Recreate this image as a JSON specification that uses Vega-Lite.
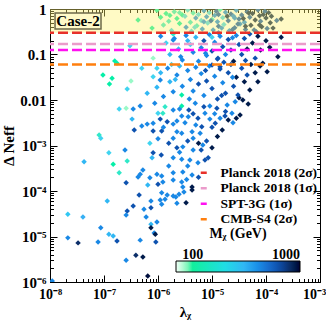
{
"$schema":"https://vega.github.io/schema/vega-lite/v6.json",
"width":270,"height":273,"autosize":"none",
"padding":{"left":50,"top":9,"right":6,"bottom":38},
"background":"white",
"config":{"view":{"stroke":"black","strokeWidth":1},"font":"Liberation Serif",
"axis":{"grid":false,"domainColor":"black","tickColor":"black","labelFont":"Liberation Serif","labelFontSize":15,"labelFontWeight":"bold","labelColor":"black","titleFont":"Liberation Serif","titleFontSize":15,"titleFontWeight":"bold","titleColor":"black","labelFlush":false,"labelOverlap":false},
"legend":{"labelFont":"Liberation Serif","labelFontSize":13.5,"labelFontWeight":"bold","labelColor":"black","titleFont":"Liberation Serif","titleFontSize":14,"titleFontWeight":"bold","titleColor":"black"}},
"datasets":{
"pts":[
{"l":9.55e-7,"n":0.933,"m":110},{"l":1.41e-6,"n":0.794,"m":110},{"l":2.0e-6,"n":0.871,"m":160},{"l":2.82e-6,"n":0.741,"m":110},{"l":3.55e-6,"n":0.955,"m":230},{"l":4.47e-6,"n":0.813,"m":160},{"l":5.62e-6,"n":0.759,"m":230},{"l":7.08e-6,"n":0.912,"m":420},{"l":8.91e-6,"n":0.832,"m":230},{"l":1.12e-5,"n":0.724,"m":420},{"l":1.41e-5,"n":0.977,"m":160},{"l":1.78e-5,"n":0.851,"m":420},{"l":2.24e-5,"n":0.776,"m":620},{"l":2.82e-5,"n":0.933,"m":420},{"l":3.55e-5,"n":0.741,"m":620},{"l":4.47e-5,"n":0.871,"m":620},{"l":5.62e-5,"n":0.794,"m":900},{"l":7.08e-5,"n":0.955,"m":620},{"l":8.91e-5,"n":0.759,"m":900},{"l":1.12e-4,"n":0.832,"m":900},
{"l":4.27e-7,"n":0.575,"m":110},{"l":1.12e-6,"n":0.661,"m":110},{"l":1.58e-6,"n":0.537,"m":160},{"l":2.24e-6,"n":0.617,"m":110},{"l":3.16e-6,"n":0.692,"m":230},{"l":3.98e-6,"n":0.513,"m":160},{"l":5.01e-6,"n":0.631,"m":420},{"l":6.31e-6,"n":0.562,"m":230},{"l":7.94e-6,"n":0.676,"m":420},{"l":1.0e-5,"n":0.589,"m":160},{"l":1.26e-5,"n":0.525,"m":420},{"l":1.58e-5,"n":0.646,"m":230},{"l":2.0e-5,"n":0.55,"m":620},{"l":2.51e-5,"n":0.692,"m":420},{"l":3.16e-5,"n":0.603,"m":620},{"l":3.98e-5,"n":0.513,"m":420},{"l":5.01e-5,"n":0.661,"m":620},{"l":6.31e-5,"n":0.575,"m":900},{"l":7.94e-5,"n":0.537,"m":620},{"l":1.0e-4,"n":0.631,"m":900},{"l":1.26e-4,"n":0.692,"m":900},{"l":1.58e-4,"n":0.562,"m":620},{"l":1.91e-4,"n":0.603,"m":900},
{"l":7.76e-7,"n":0.38,"m":110},{"l":1.26e-6,"n":0.447,"m":160},{"l":1.78e-6,"n":0.339,"m":230},{"l":2.51e-6,"n":0.479,"m":110},{"l":3.31e-6,"n":0.398,"m":420},{"l":4.17e-6,"n":0.324,"m":230},{"l":5.25e-6,"n":0.427,"m":160},{"l":6.61e-6,"n":0.363,"m":420},{"l":8.32e-6,"n":0.49,"m":230},{"l":1.05e-5,"n":0.347,"m":420},{"l":1.32e-5,"n":0.417,"m":620},{"l":1.66e-5,"n":0.457,"m":230},{"l":2.09e-5,"n":0.331,"m":420},{"l":2.63e-5,"n":0.389,"m":620},{"l":3.31e-5,"n":0.468,"m":420},{"l":4.17e-5,"n":0.355,"m":620},{"l":5.25e-5,"n":0.437,"m":900},{"l":6.61e-5,"n":0.316,"m":620},{"l":8.32e-5,"n":0.407,"m":900},{"l":1.05e-4,"n":0.372,"m":620},{"l":1.35e-4,"n":0.38,"m":900},
{"l":1.2e-5,"n":0.891,"m":620},{"l":1.91e-5,"n":0.692,"m":900},{"l":3.02e-5,"n":0.468,"m":620},{"l":4.79e-5,"n":0.813,"m":900},{"l":7.59e-5,"n":0.447,"m":900},{"l":2.4e-5,"n":0.355,"m":620},{"l":3.8e-5,"n":0.617,"m":900},{"l":6.03e-5,"n":0.347,"m":620},{"l":9.55e-6,"n":0.55,"m":620},{"l":1.51e-5,"n":0.38,"m":420},{"l":9.55e-5,"n":0.891,"m":620},{"l":1.2e-4,"n":0.501,"m":900},{"l":2.51e-6,"n":0.832,"m":160},{"l":4.79e-6,"n":0.398,"m":230},{"l":7.08e-6,"n":0.525,"m":420},{"l":1.32e-5,"n":0.759,"m":620},{"l":2.63e-5,"n":0.631,"m":420},{"l":4.17e-5,"n":0.417,"m":900},{"l":7.59e-5,"n":0.708,"m":900},{"l":1.66e-6,"n":0.724,"m":110},
{"l":3.02e-7,"n":0.155,"m":230},{"l":1.58e-7,"n":0.0724,"m":110},{"l":1.74e-7,"n":0.0646,"m":110},{"l":8.13e-7,"n":0.0832,"m":85},{"l":9.55e-7,"n":0.0501,"m":230},{"l":1.12e-6,"n":0.251,"m":420},{"l":1.41e-6,"n":0.178,"m":230},{"l":1.66e-6,"n":0.1,"m":300},{"l":2.0e-6,"n":0.224,"m":420},{"l":2.4e-6,"n":0.132,"m":300},{"l":2.82e-6,"n":0.0759,"m":420},{"l":3.31e-6,"n":0.263,"m":420},{"l":3.98e-6,"n":0.166,"m":230},{"l":4.47e-6,"n":0.112,"m":420},{"l":5.01e-6,"n":0.24,"m":300},{"l":5.62e-6,"n":0.0708,"m":420},{"l":6.31e-6,"n":0.141,"m":420},{"l":7.08e-6,"n":0.2,"m":620},{"l":7.94e-6,"n":0.0955,"m":420},{"l":8.91e-6,"n":0.275,"m":420},{"l":1.0e-5,"n":0.12,"m":620},{"l":1.12e-5,"n":0.186,"m":420},{"l":1.26e-5,"n":0.0794,"m":620},{"l":1.41e-5,"n":0.251,"m":420},{"l":1.58e-5,"n":0.148,"m":620},{"l":1.78e-5,"n":0.1,"m":420},{"l":2.0e-5,"n":0.214,"m":620},{"l":2.24e-5,"n":0.126,"m":620},{"l":2.51e-5,"n":0.0708,"m":900},{"l":2.82e-5,"n":0.263,"m":420},{"l":3.16e-5,"n":0.166,"m":620},{"l":3.55e-5,"n":0.1,"m":620},{"l":3.98e-5,"n":0.224,"m":620},{"l":4.47e-5,"n":0.132,"m":900},{"l":5.01e-5,"n":0.282,"m":620},{"l":5.62e-5,"n":0.178,"m":900},{"l":6.31e-5,"n":0.0832,"m":620},{"l":7.08e-5,"n":0.251,"m":900},{"l":7.94e-5,"n":0.126,"m":900},{"l":1.0e-4,"n":0.2,"m":900},{"l":1.17e-4,"n":0.145,"m":900},{"l":1.66e-4,"n":0.0891,"m":900},{"l":1.91e-4,"n":0.24,"m":900},{"l":8.71e-5,"n":0.0646,"m":900},{"l":7.59e-6,"n":0.107,"m":420},{"l":1.32e-5,"n":0.302,"m":420},{"l":2.4e-5,"n":0.234,"m":420},{"l":3.55e-6,"n":0.2,"m":300},{"l":1.91e-6,"n":0.282,"m":160},{"l":4.17e-5,"n":0.0741,"m":620},{"l":2.63e-6,"n":0.0891,"m":420},{"l":1.66e-5,"n":0.0676,"m":620},{"l":1.0e-5,"n":0.24,"m":230},{"l":1.91e-6,"n":0.209,"m":420},{"l":1.29e-5,"n":0.0832,"m":620},
{"l":9.55e-8,"n":0.0355,"m":110},{"l":1.41e-7,"n":0.0302,"m":110},{"l":1.26e-7,"n":0.0224,"m":110},{"l":3.16e-7,"n":0.0263,"m":85},{"l":2.69e-7,"n":0.0174,"m":230},{"l":8.13e-7,"n":0.0324,"m":230},{"l":9.55e-7,"n":0.0191,"m":300},{"l":1.1e-6,"n":0.0275,"m":420},{"l":1.12e-6,"n":0.0398,"m":300},{"l":1.26e-6,"n":0.012,"m":420},{"l":1.51e-6,"n":0.0501,"m":420},{"l":1.66e-6,"n":0.0251,"m":300},{"l":1.91e-6,"n":0.0151,"m":420},{"l":2.24e-6,"n":0.0355,"m":420},{"l":2.51e-6,"n":0.0562,"m":300},{"l":2.82e-6,"n":0.02,"m":420},{"l":2.75e-6,"n":0.0129,"m":110},{"l":3.55e-6,"n":0.0447,"m":420},{"l":3.98e-6,"n":0.0282,"m":420},{"l":4.47e-6,"n":0.0158,"m":420},{"l":5.01e-6,"n":0.0525,"m":420},{"l":5.62e-6,"n":0.0224,"m":620},{"l":6.31e-6,"n":0.038,"m":420},{"l":7.08e-6,"n":0.0126,"m":420},{"l":7.94e-6,"n":0.0263,"m":620},{"l":8.91e-6,"n":0.0562,"m":420},{"l":1.0e-5,"n":0.0178,"m":620},{"l":1.12e-5,"n":0.0331,"m":420},{"l":1.26e-5,"n":0.0105,"m":620},{"l":1.41e-5,"n":0.0479,"m":620},{"l":1.58e-5,"n":0.024,"m":420},{"l":1.78e-5,"n":0.0141,"m":620},{"l":2.0e-5,"n":0.0398,"m":620},{"l":2.24e-5,"n":0.0603,"m":620},{"l":2.51e-5,"n":0.02,"m":620},{"l":2.82e-5,"n":0.0316,"m":900},{"l":3.16e-5,"n":0.0112,"m":900},{"l":3.55e-5,"n":0.0501,"m":620},{"l":3.98e-5,"n":0.0251,"m":900},{"l":5.01e-5,"n":0.0166,"m":900},{"l":6.31e-5,"n":0.0398,"m":900},{"l":7.08e-5,"n":0.0251,"m":900},{"l":1.05e-4,"n":0.0417,"m":900},{"l":7.76e-5,"n":0.0562,"m":900},{"l":3.72e-5,"n":0.01,"m":900},{"l":3.02e-5,"n":0.0129,"m":620},{"l":4.47e-5,"n":0.0355,"m":620},{"l":2.09e-6,"n":0.0282,"m":300},{"l":3.8e-6,"n":0.0105,"m":420},{"l":5.25e-5,"n":0.0603,"m":900},{"l":1.51e-5,"n":0.0126,"m":620},{"l":7.59e-6,"n":0.0447,"m":620},{"l":2.4e-5,"n":0.0316,"m":420},{"l":1.78e-6,"n":0.0603,"m":230},{"l":6.31e-7,"n":0.0141,"m":300},{"l":5.01e-7,"n":0.0501,"m":230},{"l":1.41e-5,"n":0.0537,"m":620},{"l":1.0e-5,"n":0.0589,"m":620},
{"l":1.91e-7,"n":0.00631,"m":230},{"l":2.57e-7,"n":0.00661,"m":85},{"l":3.47e-7,"n":0.00631,"m":420},{"l":4.68e-7,"n":0.00741,"m":420},{"l":3.31e-7,"n":0.0038,"m":300},{"l":3.63e-7,"n":0.00219,"m":620},{"l":8.13e-8,"n":0.0017,"m":160},{"l":8.71e-8,"n":0.00145,"m":230},{"l":8.71e-7,"n":0.00851,"m":420},{"l":1.35e-6,"n":0.00708,"m":160},{"l":1.0e-6,"n":0.00513,"m":230},{"l":1.23e-6,"n":0.00513,"m":160},{"l":1.91e-6,"n":0.00603,"m":420},{"l":2.75e-6,"n":0.00741,"m":110},{"l":3.72e-6,"n":0.00603,"m":620},{"l":4.9e-6,"n":0.00851,"m":420},{"l":9.12e-6,"n":0.00741,"m":420},{"l":1.23e-5,"n":0.00661,"m":620},{"l":1.91e-5,"n":0.00776,"m":420},{"l":5.01e-7,"n":0.00269,"m":420},{"l":6.31e-7,"n":0.00295,"m":420},{"l":8.13e-7,"n":0.00309,"m":420},{"l":1.1e-6,"n":0.0038,"m":620},{"l":1.48e-6,"n":0.00331,"m":620},{"l":1.91e-6,"n":0.00295,"m":420},{"l":2.24e-6,"n":0.00347,"m":420},{"l":2.75e-6,"n":0.00447,"m":420},{"l":3.63e-6,"n":0.00427,"m":420},{"l":5.5e-6,"n":0.00398,"m":620},{"l":7.41e-6,"n":0.00513,"m":420},{"l":9.12e-6,"n":0.0038,"m":420},{"l":1.15e-5,"n":0.00309,"m":620},{"l":1.41e-5,"n":0.00398,"m":420},{"l":1.74e-5,"n":0.00447,"m":620},{"l":2.0e-5,"n":0.00363,"m":900},{"l":8.13e-7,"n":0.00209,"m":620},{"l":1.17e-6,"n":0.00209,"m":620},{"l":7.08e-7,"n":0.00112,"m":230},{"l":1.91e-6,"n":0.00145,"m":420},{"l":2.75e-6,"n":0.00186,"m":420},{"l":4.27e-6,"n":0.002,"m":420},{"l":6.03e-6,"n":0.00186,"m":420},{"l":4.47e-6,"n":0.00145,"m":420},{"l":6.46e-6,"n":0.00257,"m":620},{"l":1.55e-5,"n":0.00219,"m":900},{"l":2.69e-5,"n":0.00912,"m":420},{"l":2.34e-5,"n":0.00513,"m":420},{"l":3.31e-5,"n":0.00468,"m":900},{"l":4.68e-5,"n":0.00813,"m":900},{"l":2.45e-5,"n":0.00316,"m":420},{"l":1.0e-5,"n":0.00251,"m":620},{"l":1.26e-5,"n":0.00158,"m":900},{"l":7.94e-6,"n":0.00126,"m":620},{"l":5.01e-6,"n":0.00282,"m":420},{"l":3.55e-6,"n":0.00126,"m":620},{"l":2.24e-6,"n":0.002,"m":420},{"l":1.58e-6,"n":0.00112,"m":620},{"l":5.62e-6,"n":0.00112,"m":900},{"l":1.78e-5,"n":0.00562,"m":620},{"l":2.82e-5,"n":0.00398,"m":900},{"l":7.08e-6,"n":0.00708,"m":620},{"l":2.51e-6,"n":0.00631,"m":420},{"l":1.26e-6,"n":0.00251,"m":420},{"l":1.0e-6,"n":0.00141,"m":420},{"l":3.16e-6,"n":0.00316,"m":420},{"l":1.12e-5,"n":0.00501,"m":420},{"l":4.47e-6,"n":0.00501,"m":620},
{"l":1.23e-7,"n":6.92e-4,"m":230},{"l":2.45e-7,"n":7.94e-4,"m":420},{"l":4.27e-8,"n":4.37e-4,"m":300},{"l":1.48e-7,"n":3.89e-4,"m":110},{"l":2.69e-7,"n":4.57e-4,"m":160},{"l":1.91e-7,"n":2.51e-4,"m":160},{"l":2.57e-7,"n":1.51e-4,"m":620},{"l":4.27e-7,"n":2.04e-4,"m":420},{"l":4.68e-7,"n":2.34e-4,"m":420},{"l":9.55e-7,"n":2.34e-4,"m":420},{"l":1.17e-6,"n":2.14e-4,"m":420},{"l":7.08e-7,"n":1.95e-4,"m":420},{"l":6.46e-7,"n":1.35e-4,"m":300},{"l":1.0e-6,"n":1.41e-4,"m":620},{"l":7.76e-7,"n":5.37e-4,"m":300},{"l":8.13e-7,"n":6.92e-4,"m":620},{"l":1.15e-6,"n":6.17e-4,"m":620},{"l":2.24e-6,"n":8.91e-4,"m":620},{"l":2.88e-6,"n":9.33e-4,"m":420},{"l":4.47e-6,"n":7.94e-4,"m":420},{"l":6.76e-6,"n":1.02e-3,"m":420},{"l":1.91e-6,"n":5.37e-4,"m":420},{"l":2.75e-6,"n":5.01e-4,"m":420},{"l":3.89e-6,"n":4.79e-4,"m":420},{"l":5.5e-6,"n":4.17e-4,"m":420},{"l":7.41e-6,"n":4.79e-4,"m":620},{"l":8.51e-6,"n":5.37e-4,"m":620},{"l":5.25e-7,"n":2.88e-4,"m":420},{"l":1.23e-6,"n":1.58e-4,"m":420},{"l":1.91e-6,"n":2.51e-4,"m":420},{"l":2.88e-6,"n":2.63e-4,"m":420},{"l":4.27e-6,"n":2.24e-4,"m":420},{"l":1.91e-6,"n":1.74e-4,"m":420},{"l":2.75e-6,"n":1.58e-4,"m":420},{"l":4.27e-6,"n":1.23e-4,"m":900},{"l":2.88e-6,"n":1.23e-4,"m":420},{"l":6.31e-6,"n":7.94e-4,"m":620},{"l":3.55e-6,"n":3.55e-4,"m":420},{"l":1.58e-6,"n":3.55e-4,"m":420},{"l":1.0e-5,"n":8.91e-4,"m":900},{"l":2.51e-6,"n":7.08e-4,"m":420},{"l":5.62e-6,"n":2.0e-4,"m":620},{"l":3.39e-6,"n":1.78e-4,"m":420},
{"l":4.47e-7,"n":8.13e-5,"m":620},{"l":1.17e-6,"n":9.12e-5,"m":420},{"l":7.41e-7,"n":6.03e-5,"m":420},{"l":1.17e-6,"n":5.13e-5,"m":420},{"l":2.69e-7,"n":3.63e-5,"m":620},{"l":3.47e-7,"n":4.68e-5,"m":620},{"l":2.14e-8,"n":3.09e-5,"m":260},{"l":4.07e-8,"n":2.69e-5,"m":320},{"l":5.5e-7,"n":3.98e-5,"m":420},{"l":7.41e-7,"n":4.27e-5,"m":620},{"l":2.57e-7,"n":2.95e-5,"m":420},{"l":6.03e-7,"n":2.69e-5,"m":420},{"l":7.41e-7,"n":1.86e-5,"m":300},{"l":7.41e-7,"n":1.55e-5,"m":900},{"l":8.71e-8,"n":1.55e-5,"m":420},{"l":8.51e-7,"n":1.2e-5,"m":420},{"l":1.1e-6,"n":6.31e-5,"m":420},{"l":1.35e-6,"n":6.61e-5,"m":420},{"l":1.48e-6,"n":8.13e-5,"m":420},{"l":1.91e-6,"n":7.76e-5,"m":420},{"l":2.14e-6,"n":7.41e-5,"m":420},{"l":2.24e-6,"n":5.37e-5,"m":420},{"l":2.45e-6,"n":8.51e-5,"m":420},{"l":3.02e-6,"n":9.55e-5,"m":420},{"l":3.31e-6,"n":5.5e-5,"m":900},{"l":4.27e-6,"n":1.05e-4,"m":900},{"l":9.55e-7,"n":2.09e-5,"m":420},{"l":8.91e-7,"n":1.12e-5,"m":900},{"l":1.15e-7,"n":6.03e-5,"m":300},
{"l":2.14e-8,"n":9.33e-6,"m":420},{"l":3.31e-8,"n":7.24e-6,"m":800},{"l":7.76e-8,"n":7.59e-6,"m":420},{"l":1.23e-7,"n":1.12e-5,"m":300},{"l":1.48e-7,"n":1.02e-5,"m":300},{"l":1.74e-7,"n":7.94e-6,"m":620},{"l":4.68e-7,"n":8.32e-6,"m":420},{"l":9.12e-7,"n":7.59e-6,"m":620},{"l":3.89e-7,"n":3.89e-6,"m":800},{"l":5.25e-7,"n":3.55e-6,"m":900},{"l":2.57e-7,"n":3.02e-6,"m":420},{"l":6.46e-7,"n":1.35e-6,"m":950},{"l":1.1e-8,"n":1.05e-6,"m":420}
],
"lines":[{"name":"Planck 2018 (2σ)","v":0.3},{"name":"Planck 2018 (1σ)","v":0.17},{"name":"SPT-3G (1σ)","v":0.125},{"name":"CMB-S4 (2σ)","v":0.06}],
"band":[{"x1":1e-8,"x2":1e-3,"y1":0.3,"y2":1}],
"box":[{"x1":1.24e-8,"x2":8.8e-8,"y1":0.363,"y2":0.817,"xt":3.3e-8,"yt":0.545,"label":"Case-2"}]
},
"layer":[
{"data":{"name":"pts"},
"mark":{"type":"point","shape":"diamond","filled":true,"size":30,"opacity":1,"clip":true},
"encoding":{
"x":{"field":"l","type":"quantitative","scale":{"type":"log","domain":[1e-8,1e-3],"nice":false},
"axis":{"orient":"bottom","title":"λᵪ","titlePadding":0,"labelPadding":12,"labelFontSize":14,
"labelOffset":{"condition":{"test":"datum.value > 5e-4","value":-6},"value":0},
"values":[1e-8,2e-8,3e-8,4e-8,5e-8,6e-8,7e-8,8e-8,9e-8,1e-7,2e-7,3e-7,4e-7,5e-7,6e-7,7e-7,8e-7,9e-7,1e-6,2e-6,3e-6,4e-6,5e-6,6e-6,7e-6,8e-6,9e-6,1e-5,2e-5,3e-5,4e-5,5e-5,6e-5,7e-5,8e-5,9e-5,1e-4,2e-4,3e-4,4e-4,5e-4,6e-4,7e-4,8e-4,9e-4,1e-3],
"labelExpr":"abs(log(datum.value)/LN10 - round(log(datum.value)/LN10)) > 0.01 ? '' : '10⁻' + ['⁰','¹','²','³','⁴','⁵','⁶','⁷','⁸','⁹'][-round(log(datum.value)/LN10)]",
"tickSize":{"condition":{"test":"abs(log(datum.value)/LN10 - round(log(datum.value)/LN10)) < 0.01","value":-7},"value":-3.5}}},
"y":{"field":"n","type":"quantitative","scale":{"type":"log","domain":[1e-6,1],"nice":false},
"axis":{"orient":"left","title":"Δ Neff","titlePadding":3,"labelPadding":11,
"values":[1e-6,2e-6,3e-6,4e-6,5e-6,6e-6,7e-6,8e-6,9e-6,1e-5,2e-5,3e-5,4e-5,5e-5,6e-5,7e-5,8e-5,9e-5,1e-4,2e-4,3e-4,4e-4,5e-4,6e-4,7e-4,8e-4,9e-4,1e-3,2e-3,3e-3,4e-3,5e-3,6e-3,7e-3,8e-3,9e-3,0.01,0.02,0.03,0.04,0.05,0.06,0.07,0.08,0.09,0.1,0.2,0.3,0.4,0.5,0.6,0.7,0.8,0.9,1],
"labelExpr":"abs(log(datum.value)/LN10 - round(log(datum.value)/LN10)) > 0.01 ? '' : datum.value > 0.5 ? '1' : datum.value > 0.05 ? '0.1' : datum.value > 0.005 ? '0.01' : '10⁻' + ['⁰','¹','²','³','⁴','⁵','⁶','⁷','⁸','⁹'][-round(log(datum.value)/LN10)]",
"tickSize":{"condition":{"test":"abs(log(datum.value)/LN10 - round(log(datum.value)/LN10)) < 0.01","value":-7},"value":-3.5}}},
"color":{"field":"m","type":"quantitative",
"scale":{"type":"log","domain":[70,100,160,230,320,450,650,850,1000],"range":["#f2fff8","#12f09c","#30e8c8","#40d4f0","#36b0f4","#1c7ee0","#0c4ca8","#0a2658","#000000"]},
"legend":{"orient":"none","legendX":126,"legendY":218,"direction":"horizontal","gradientLength":124,"gradientThickness":11,"title":"Mᵪ (GeV)","titleAnchor":"middle","titlePadding":20,"values":[100,1000],"format":"d","labelOffset":-24,"labelAlign":"center","labelFontSize":14,"gradientStrokeColor":"black","gradientStrokeWidth":1}}
}},
{"data":{"name":"band"},
"mark":{"type":"rect","fill":"#fff26e","opacity":0.4},
"encoding":{"x":{"field":"x1","type":"quantitative","axis":null},"x2":{"field":"x2"},"y":{"field":"y1","type":"quantitative","axis":null},"y2":{"field":"y2"}}},
{"data":{"name":"lines"},
"mark":{"type":"rule","strokeDash":[10,4],"strokeWidth":2.5},
"encoding":{"y":{"field":"v","type":"quantitative","axis":null},
"color":{"field":"name","type":"nominal","scale":{"domain":["Planck 2018 (2σ)","Planck 2018 (1σ)","SPT-3G (1σ)","CMB-S4 (2σ)"],"range":["#e8302a","#eb9bcb","#ff10f0","#ff7f0e"]},
"legend":{"orient":"none","legendX":147,"legendY":157,"title":null,"symbolType":"stroke","symbolSize":36,"symbolStrokeWidth":2.5,"symbolDash":[],"labelOffset":10,"rowPadding":0.5}}}},
{"data":{"name":"box"},
"mark":{"type":"rect","fill":"#fffac8","stroke":"#6e6a4a","strokeWidth":1.5},
"encoding":{
"x":{"field":"x1","type":"quantitative","axis":{"orient":"top","title":null,"labels":false,"domain":false,
"values":[1e-8,2e-8,3e-8,4e-8,5e-8,6e-8,7e-8,8e-8,9e-8,1e-7,2e-7,3e-7,4e-7,5e-7,6e-7,7e-7,8e-7,9e-7,1e-6,2e-6,3e-6,4e-6,5e-6,6e-6,7e-6,8e-6,9e-6,1e-5,2e-5,3e-5,4e-5,5e-5,6e-5,7e-5,8e-5,9e-5,1e-4,2e-4,3e-4,4e-4,5e-4,6e-4,7e-4,8e-4,9e-4,1e-3],
"tickSize":{"condition":{"test":"abs(log(datum.value)/LN10 - round(log(datum.value)/LN10)) < 0.01","value":-7},"value":-3.5}}},
"x2":{"field":"x2"},
"y":{"field":"y1","type":"quantitative","axis":{"orient":"right","title":null,"labels":false,"domain":false,
"values":[1e-6,2e-6,3e-6,4e-6,5e-6,6e-6,7e-6,8e-6,9e-6,1e-5,2e-5,3e-5,4e-5,5e-5,6e-5,7e-5,8e-5,9e-5,1e-4,2e-4,3e-4,4e-4,5e-4,6e-4,7e-4,8e-4,9e-4,1e-3,2e-3,3e-3,4e-3,5e-3,6e-3,7e-3,8e-3,9e-3,0.01,0.02,0.03,0.04,0.05,0.06,0.07,0.08,0.09,0.1,0.2,0.3,0.4,0.5,0.6,0.7,0.8,0.9,1],
"tickSize":{"condition":{"test":"abs(log(datum.value)/LN10 - round(log(datum.value)/LN10)) < 0.01","value":-7},"value":-3.5}}},
"y2":{"field":"y2"}}},
{"data":{"name":"box"},
"mark":{"type":"text","fontSize":15,"fontWeight":"bold","font":"Liberation Serif","color":"black","align":"center","baseline":"middle"},
"encoding":{"x":{"field":"xt","type":"quantitative","axis":null},"y":{"field":"yt","type":"quantitative","axis":null},"text":{"field":"label"}}}
],
"resolve":{"scale":{"color":"independent"},"axis":{"x":"independent","y":"independent"}}
}
